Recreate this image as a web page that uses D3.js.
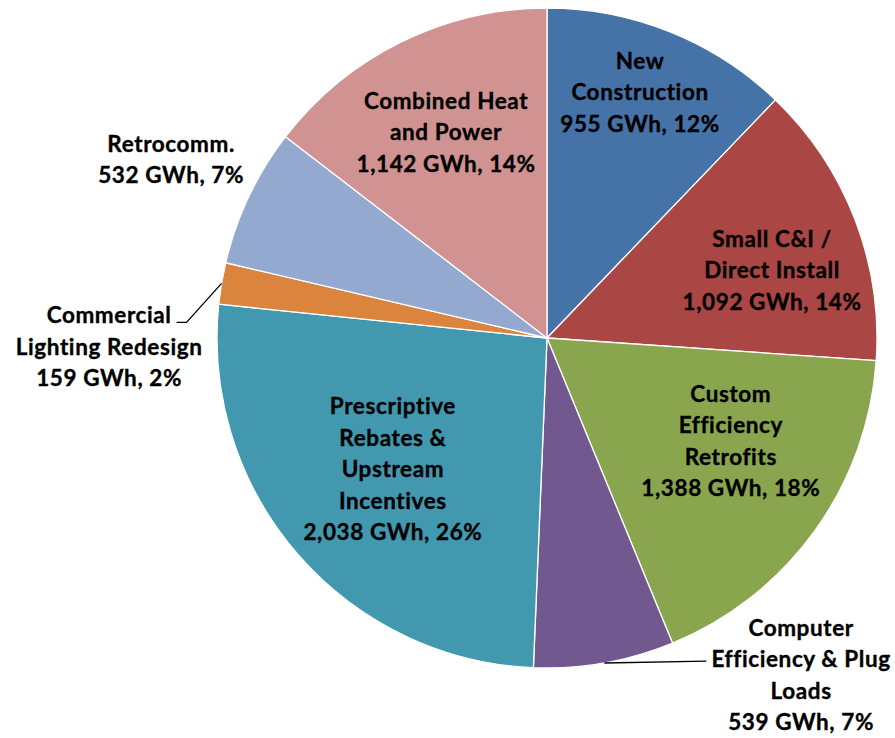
<!DOCTYPE html>
<html>
<head>
<meta charset="utf-8">
<script src="https://cdn.jsdelivr.net/npm/d3@7"></script>
<style>
  html, body { margin: 0; padding: 0; background: #ffffff; }
  svg { display: block; }
  text { font-family: Lato, "Open Sans", sans-serif; font-weight: 700; fill: #000; stroke: #000; stroke-width: 0.35px; letter-spacing: 0.6px; }
</style>
</head>
<body>
<svg id="chart" width="895" height="738"></svg>
<script>
// Savings by program, clockwise from 12 o'clock
const programs = [
  ["New", "Construction"],
  ["Small C&I /", "Direct Install"],
  ["Custom", "Efficiency", "Retrofits"],
  ["Computer", "Efficiency & Plug", "Loads"],
  ["Prescriptive", "Rebates &", "Upstream", "Incentives"],
  ["Commercial", "Lighting Redesign"],
  ["Retrocomm."],
  ["Combined Heat", "and Power"]
];
const gwh = [955, 1092, 1388, 539, 2038, 159, 532, 1142];
const sharePct = [12, 14, 18, 7, 26, 2, 7, 14];
const colors = ["#4572A7", "#AA4643", "#89A54E", "#71588F", "#4198AF", "#DB843D", "#93A9CF", "#D19392"];

// Label block centres, in units of the pie radius relative to its centre
const labelPlace = [
  [0.282, -0.745],
  [0.682, -0.206],
  [0.557, 0.312],
  [0.770, 1.021],
  [-0.467, 0.397],
  [-1.327, 0.027],
  [-1.139, -0.541],
  [-0.306, -0.624]
];
// Which labels get a leader line and on which side of the text it attaches
const leaderSide = { 3: "left", 5: "right" };

const svg = d3.select("#chart");
const cx = 547, cy = 338, R = 330;
const lineGap = 31.5;

const pie = d3.pie().sort(null).value(d => d.value);
const data = gwh.map((v, i) => ({ value: v, name: programs[i], pct: sharePct[i], color: colors[i] }));
const arcs = pie(data);
const arc = d3.arc().innerRadius(0).outerRadius(R);

const g = svg.append("g").attr("transform", `translate(${cx},${cy})`);

g.selectAll("path.slice")
  .data(arcs)
  .join("path")
  .attr("class", "slice")
  .attr("d", arc)
  .attr("fill", d => d.data.color)
  .attr("stroke", "#ffffff")
  .attr("stroke-width", 1.3)
  .attr("stroke-linejoin", "round");

const fmt = d3.format(",");

const labels = g.selectAll("g.label")
  .data(arcs)
  .join("g")
  .attr("class", "label");

labels.each(function (d, i) {
  const lines = d.data.name.concat([`${fmt(d.data.value)} GWh, ${d.data.pct}%`]);
  const [px, py] = labelPlace[i];
  const bx = px * R, by = py * R;
  const n = lines.length;
  const t = d3.select(this).append("text")
    .attr("text-anchor", "middle")
    .style("font-size", "22.5px");
  lines.forEach((ln, k) => {
    t.append("tspan")
      .attr("x", bx)
      .attr("y", by + (k - (n - 1) / 2) * lineGap + 8)
      .text(ln);
  });

  const side = leaderSide[i];
  if (side) {
    const mid = (d.startAngle + d.endAngle) / 2;
    const ex = Math.sin(mid) * R, ey = -Math.cos(mid) * R;
    const spans = t.selectAll("tspan").nodes();
    let pts;
    if (side === "right") {
      const first = spans[0];
      const w = first.getComputedTextLength();
      const yL = by - (n - 1) / 2 * lineGap + 7;
      const xr = bx + w / 2;
      pts = [[xr + 5, yL], [xr + 15, yL], [ex, ey]];
    } else {
      const second = spans[1];
      const w = second.getComputedTextLength();
      const yL = by + (1 - (n - 1) / 2) * lineGap + 2;
      const xl = bx - w / 2;
      pts = [[ex, ey], [xl - 5, yL]];
    }
    d3.select(this).append("path")
      .attr("d", d3.line()(pts))
      .attr("fill", "none")
      .attr("stroke", "#000")
      .attr("stroke-width", 1.3);
  }
});
</script>
</body>
</html>
